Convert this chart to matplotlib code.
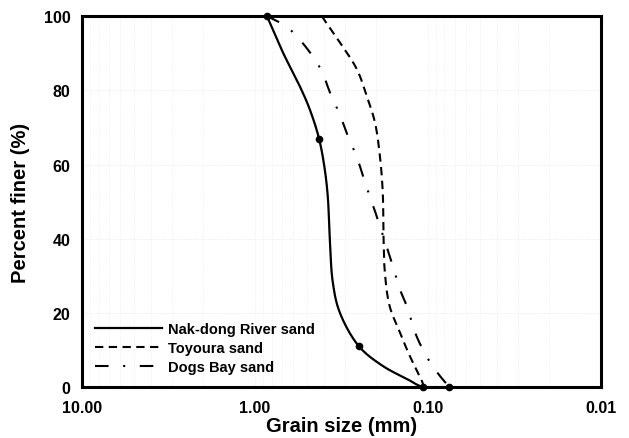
import numpy as np
import matplotlib.pyplot as plt

plt.rcParams['font.family'] = ['Liberation Sans', 'DejaVu Sans']
plt.rcParams['font.weight'] = 'bold'

# Nak-dong River sand: sieve results (markers) and the drawn curve
nak_sieve = [0.85, 0.425, 0.25, 0.106, 0.075]
nak_sieve_pct = [100, 67, 11, 0, 0]
nak_d = [0.85, 0.689, 0.549, 0.481, 0.425, 0.394, 0.378, 0.368, 0.354, 0.323,
         0.25, 0.182, 0.132, 0.106, 0.075]
nak_pct = [100, 90.3, 81.1, 74.9, 67, 58.8, 51.2, 39.9, 28.3, 20.2,
           11, 5.7, 2.2, 0, 0]

# Toyoura sand
toy_d = [0.41, 0.323, 0.257, 0.225, 0.202, 0.189, 0.182, 0.18, 0.177, 0.166,
         0.145, 0.127, 0.108, 0.105]
toy_pct = [100, 93, 85.7, 78.4, 71.4, 62.3, 52.6, 40, 31, 21.8,
           14.8, 8.4, 1.6, 0]

# Dogs Bay sand
dog_d = [0.85, 0.689, 0.603, 0.481, 0.41, 0.368, 0.323, 0.29, 0.257, 0.231,
         0.211, 0.189, 0.159, 0.145, 0.132, 0.116, 0.097, 0.085, 0.075]
dog_pct = [100, 97.8, 95.7, 90.3, 85.2, 79.5, 73.6, 67.7, 62, 55.3,
           50.1, 43.4, 32.6, 26.4, 21.8, 13.7, 6.7, 3, 0]

x_ticks = [10, 1, 0.1, 0.01]
x_labels = ['10.00', '1.00', '0.10', '0.01']
y_ticks = [0, 20, 40, 60, 80, 100]


def smooth(d, p, n=12):
    # centripetal Catmull-Rom through the points, worked in log10(d) / percent space
    x = np.log10(d) * 173.0
    y = np.asarray(p, float) * 3.71
    P = np.column_stack([x, y])
    P = np.vstack([2 * P[0] - P[1], P, 2 * P[-1] - P[-2]])
    out = []
    for i in range(1, len(P) - 2):
        p0, p1, p2, p3 = P[i - 1], P[i], P[i + 1], P[i + 2]
        t0 = 0.0
        t1 = t0 + np.linalg.norm(p1 - p0) ** 0.5 + 1e-9
        t2 = t1 + np.linalg.norm(p2 - p1) ** 0.5 + 1e-9
        t3 = t2 + np.linalg.norm(p3 - p2) ** 0.5 + 1e-9
        for t in np.linspace(t1, t2, n, endpoint=False):
            a1 = (t1 - t) / (t1 - t0) * p0 + (t - t0) / (t1 - t0) * p1
            a2 = (t2 - t) / (t2 - t1) * p1 + (t - t1) / (t2 - t1) * p2
            a3 = (t3 - t) / (t3 - t2) * p2 + (t - t2) / (t3 - t2) * p3
            b1 = (t2 - t) / (t2 - t0) * a1 + (t - t0) / (t2 - t0) * a2
            b2 = (t3 - t) / (t3 - t1) * a2 + (t - t1) / (t3 - t1) * a3
            out.append((t2 - t) / (t2 - t1) * b1 + (t - t1) / (t2 - t1) * b2)
    out.append(P[-2])
    out = np.array(out)
    return 10 ** (out[:, 0] / 173.0), np.clip(out[:, 1] / 3.71, 0, 100)


fig = plt.figure(figsize=(6.29, 4.39), dpi=100)
ax = fig.add_axes([0.130, 0.116, 0.825, 0.845])

ax.set_xscale('log')
ax.set_xlim(10, 0.01)
ax.set_ylim(0, 100)

# faint dotted grid
ax.grid(True, which='both', axis='x', color='#ececec', linestyle=':', linewidth=0.6)
ax.grid(True, which='major', axis='y', color='#e4e4e4', linestyle=':', linewidth=0.6)

sx, sy = smooth(nak_d, nak_pct)
ax.plot(sx, sy, color='black', lw=1.6, label='Nak-dong River sand', zorder=3)
ax.plot(nak_sieve, nak_sieve_pct, 'o', color='black', ms=4.5, zorder=5, clip_on=False)
sx, sy = smooth(toy_d, toy_pct)
ax.plot(sx, sy, color='black', lw=1.5, dashes=(4, 2.6), label='Toyoura sand', zorder=3)
sx, sy = smooth(dog_d, dog_pct)
ax.plot(sx, sy, color='black', lw=1.5, dashes=(6.5, 7, 1, 7), label='Dogs Bay sand', zorder=3)

ax.set_xticks(x_ticks)
ax.set_xticklabels(x_labels)
ax.xaxis.set_minor_formatter(plt.NullFormatter())
ax.set_yticks(y_ticks)
ax.tick_params(axis='both', which='both', length=0, labelsize=11.5)
ax.tick_params(axis='x', pad=9)
ax.tick_params(axis='y', pad=8)

for s in ax.spines.values():
    s.set_linewidth(2.2)

ax.set_xlabel('Grain size (mm)', fontsize=14.5, fontweight='bold', labelpad=1)
ax.set_ylabel('Percent finer (%)', fontsize=14.5, fontweight='bold', labelpad=10)

ax.legend(loc='lower left', bbox_to_anchor=(0.025, 0.035), frameon=False,
          fontsize=10.5, handlelength=4.6, handletextpad=0.45,
          labelspacing=0.35, borderpad=0, borderaxespad=0)

fig.savefig('out.png', dpi=100)
